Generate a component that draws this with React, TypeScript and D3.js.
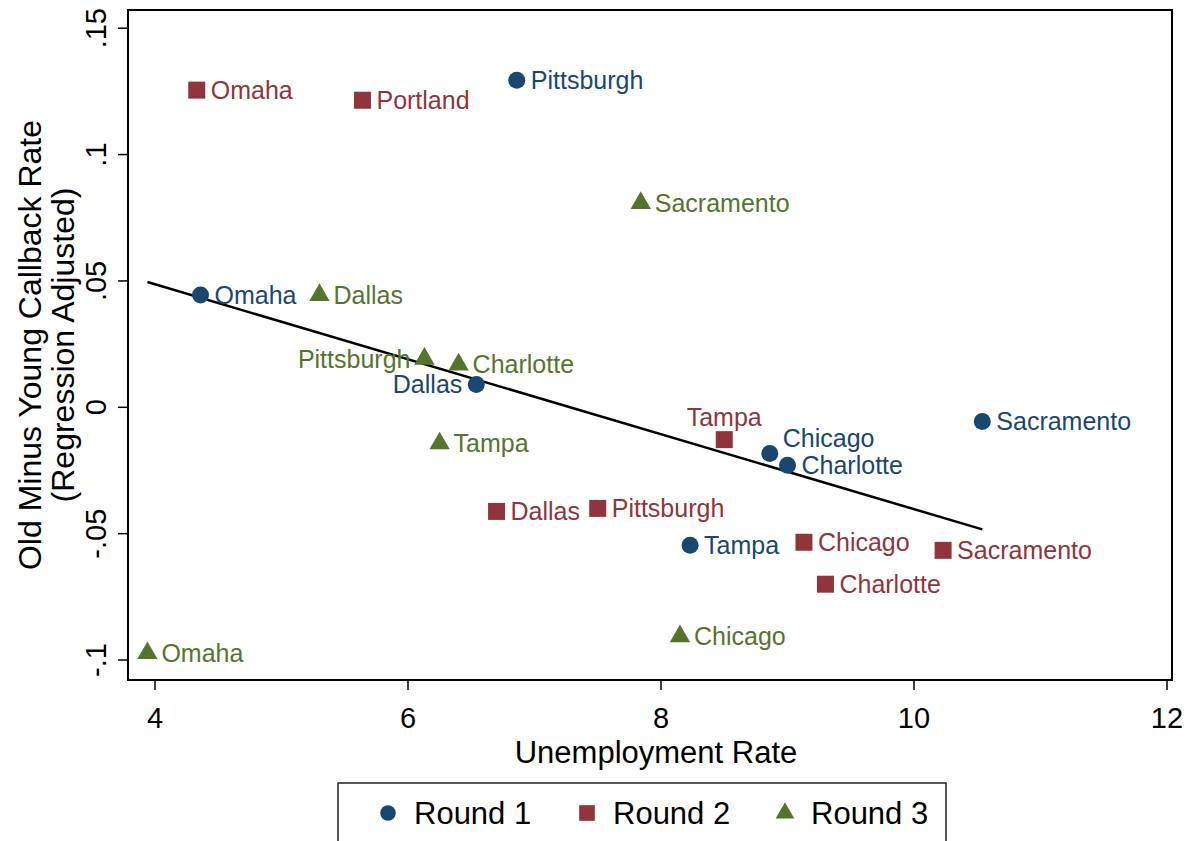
import React, { useRef, useEffect } from 'react';
import * as d3 from 'd3';

// Round 1 (blue circles)
const round1Cities = ['Pittsburgh', 'Omaha', 'Dallas', 'Chicago', 'Charlotte', 'Sacramento', 'Tampa'];
const round1Unemp = [6.86, 4.36, 6.54, 8.86, 9.0, 10.54, 8.23];
const round1Diff = [0.1294, 0.0444, 0.009, -0.0183, -0.0229, -0.0056, -0.0546];
const round1LabelPos = [3, 3, 9, 2, 3, 3, 3];

// Round 2 (red squares)
const round2Cities = ['Omaha', 'Portland', 'Tampa', 'Dallas', 'Pittsburgh', 'Chicago', 'Sacramento', 'Charlotte'];
const round2Unemp = [4.33, 5.64, 8.5, 6.7, 7.5, 9.13, 10.23, 9.3];
const round2Diff = [0.1255, 0.1215, -0.0128, -0.0412, -0.04, -0.0534, -0.0566, -0.070];
const round2LabelPos = [3, 3, 12, 3, 3, 3, 3, 3];

// Round 3 (green triangles)
const round3Cities = ['Sacramento', 'Dallas', 'Pittsburgh', 'Charlotte', 'Tampa', 'Chicago', 'Omaha'];
const round3Unemp = [7.84, 5.3, 6.13, 6.4, 6.25, 8.15, 3.94];
const round3Diff = [0.0808, 0.0444, 0.0192, 0.0169, -0.0143, -0.0906, -0.0973];
const round3LabelPos = [3, 3, 9, 3, 3, 3, 3];

// Linear fit (intercept, slope)
const fitIntercept = 0.108;
const fitSlope = -0.01483;

const xTicks = [4, 6, 8, 10, 12];
const yTicks = [0.15, 0.1, 0.05, 0, -0.05, -0.1];
const yTickLabels = ['.15', '.1', '.05', '0', '-.05', '-.1'];

const seriesNames = ['Round 1', 'Round 2', 'Round 3'];
const seriesColors = ['#1a476f', '#90353b', '#55752f'];

const FONT = '"Liberation Sans", Arial, Helvetica, sans-serif';

export default function App() {
  const svgRef = useRef<SVGSVGElement>(null);

  useEffect(() => {
    const width = 1195;
    const height = 841;
    const svg = d3.select(svgRef.current);
    svg.selectAll('*').remove();
    svg.attr('width', width).attr('height', height);

    svg.append('rect').attr('width', width).attr('height', height).attr('fill', '#fff');

    const plot = { left: 128, right: 1172, top: 10, bottom: 680 };

    const x = d3.scaleLinear().domain([3.7866, 12.0395]).range([plot.left, plot.right]);
    const y = d3.scaleLinear().domain([-0.1079, 0.1572]).range([plot.bottom, plot.top]);

    const series = [
      { cities: round1Cities, ux: round1Unemp, dy: round1Diff, pos: round1LabelPos, symbol: d3.symbolCircle, size: 227 },
      { cities: round2Cities, ux: round2Unemp, dy: round2Diff, pos: round2LabelPos, symbol: d3.symbolSquare, size: 289 },
      { cities: round3Cities, ux: round3Unemp, dy: round3Diff, pos: round3LabelPos, symbol: d3.symbolTriangle, size: 180 },
    ];

    // frame
    svg.append('rect')
      .attr('x', plot.left).attr('y', plot.top)
      .attr('width', plot.right - plot.left).attr('height', plot.bottom - plot.top)
      .attr('fill', 'none').attr('stroke', '#000').attr('stroke-width', 2);

    // x axis
    const xAxis = svg.append('g');
    xTicks.forEach(t => {
      xAxis.append('line')
        .attr('x1', x(t)).attr('x2', x(t))
        .attr('y1', plot.bottom).attr('y2', plot.bottom + 10)
        .attr('stroke', '#000').attr('stroke-width', 1.5);
      xAxis.append('text')
        .attr('x', x(t)).attr('y', plot.bottom + 48)
        .attr('text-anchor', 'middle')
        .attr('font-family', FONT).attr('font-size', 29)
        .text(String(t));
    });
    svg.append('text')
      .attr('x', 656).attr('y', 763)
      .attr('text-anchor', 'middle')
      .attr('font-family', FONT).attr('font-size', 31)
      .text('Unemployment Rate');

    // y axis
    const yAxis = svg.append('g');
    yTicks.forEach((t, i) => {
      yAxis.append('line')
        .attr('x1', plot.left - 10).attr('x2', plot.left)
        .attr('y1', y(t)).attr('y2', y(t))
        .attr('stroke', '#000').attr('stroke-width', 1.5);
      yAxis.append('text')
        .attr('transform', `translate(${plot.left - 22},${y(t)}) rotate(-90)`)
        .attr('text-anchor', 'middle')
        .attr('font-family', FONT).attr('font-size', 29)
        .text(yTickLabels[i]);
    });
    const yMid = (plot.top + plot.bottom) / 2;
    svg.append('text')
      .attr('transform', `translate(41,${yMid}) rotate(-90)`)
      .attr('text-anchor', 'middle')
      .attr('font-family', FONT).attr('font-size', 32)
      .text('Old Minus Young Callback Rate');
    svg.append('text')
      .attr('transform', `translate(74,${yMid}) rotate(-90)`)
      .attr('text-anchor', 'middle')
      .attr('font-family', FONT).attr('font-size', 32)
      .text('(Regression Adjusted)');

    // fit line over the data range
    const allX = series.flatMap(s => s.ux);
    const [xMin, xMax] = d3.extent(allX) as [number, number];
    const line = d3.line<number>().x(d => x(d)).y(d => y(fitIntercept + fitSlope * d));
    svg.append('path')
      .attr('d', line([xMin, xMax]))
      .attr('fill', 'none').attr('stroke', '#000').attr('stroke-width', 2.5);

    // markers + labels
    series.forEach((s, si) => {
      const color = seriesColors[si];
      const g = svg.append('g');
      s.cities.forEach((city, i) => {
        const px = x(s.ux[i]);
        const py = y(s.dy[i]);
        g.append('path')
          .attr('d', d3.symbol().type(s.symbol).size(s.size)())
          .attr('transform', `translate(${px},${py})`)
          .attr('fill', color);
        const pos = s.pos[i];
        let lx = px + 14, ly = py, anchor = 'start';
        if (pos === 9) { lx = px - 14; anchor = 'end'; }
        if (pos === 12) { lx = px; ly = py - 22; anchor = 'middle'; }
        if (pos === 2) { lx = px + 13; ly = py - 15; }
        g.append('text')
          .attr('x', lx).attr('y', ly).attr('dy', '0.35em')
          .attr('text-anchor', anchor)
          .attr('font-family', FONT).attr('font-size', 25)
          .attr('fill', color)
          .text(city);
      });
    });

    // legend
    const legend = svg.append('g');
    legend.append('rect')
      .attr('x', 338).attr('y', 783).attr('width', 608).attr('height', 60)
      .attr('fill', '#fff').attr('stroke', '#222').attr('stroke-width', 1.5);
    const legendX = [388, 587, 785];
    series.forEach((s, i) => {
      legend.append('path')
        .attr('d', d3.symbol().type(s.symbol).size(s.size * 0.85)())
        .attr('transform', `translate(${legendX[i]},${813})`)
        .attr('fill', seriesColors[i]);
      legend.append('text')
        .attr('x', legendX[i] + 26).attr('y', 813).attr('dy', '0.35em')
        .attr('font-family', FONT).attr('font-size', 31)
        .attr('fill', '#000')
        .text(seriesNames[i]);
    });
  }, []);

  return (
    <div style={{ position: 'absolute', left: 0, top: 0 }}>
      <svg ref={svgRef} style={{ display: 'block' }} />
    </div>
  );
}
